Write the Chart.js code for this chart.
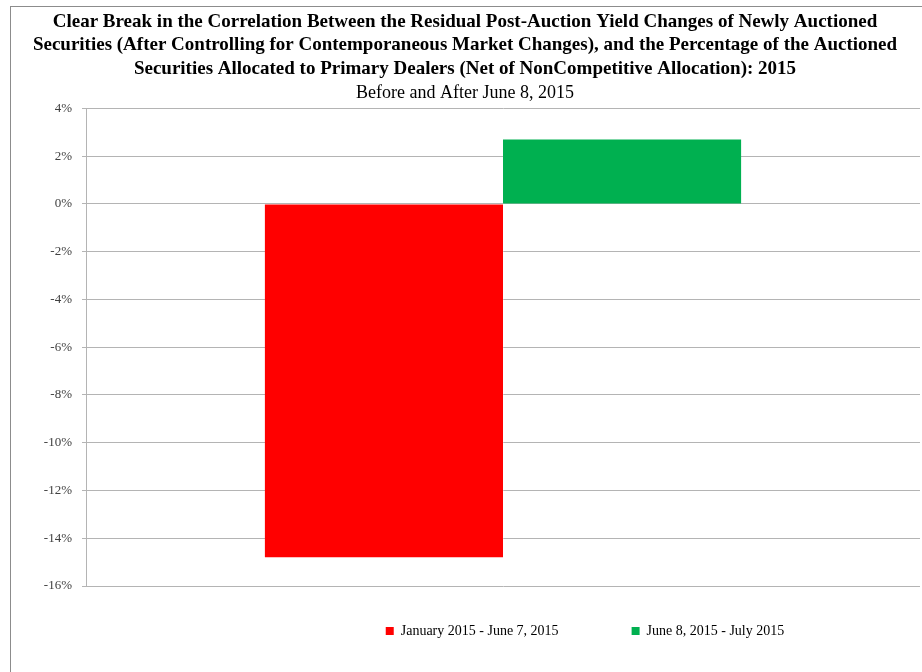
<!DOCTYPE html>
<html>
<head>
<meta charset="utf-8">
<script src="https://cdn.jsdelivr.net/npm/chart.js@4/dist/chart.umd.min.js"></script>
<style>
  html, body { margin: 0; padding: 0; background: #fff; }
  #wrap { width: 922px; height: 672px; }
</style>
</head>
<body>
<div id="wrap"><canvas id="barChart" width="922" height="672"></canvas></div>
<script>
const categories = [''];
const seriesNames = ['January 2015 - June 7, 2015', 'June 8, 2015 - July 2015'];
const beforeValues = [-14.8];
const afterValues = [2.7];
const yTicks = [4, 2, 0, -2, -4, -6, -8, -10, -12, -14, -16];

const titleLines = [
    'Clear Break in the Correlation Between the Residual Post-Auction Yield Changes of Newly Auctioned',
    'Securities (After Controlling for Contemporaneous Market Changes), and the Percentage of the Auctioned',
    'Securities Allocated to Primary Dealers (Net of NonCompetitive Allocation): 2015'
];
const subtitleText = 'Before and After June 8, 2015';

const serif = "'Liberation Serif', 'DejaVu Serif', serif";

// outer frame like the spreadsheet chart border
const framePlugin = {
    id: 'frame',
    beforeDraw(chart) {
        const c = chart.ctx;
        c.save();
        c.fillStyle = '#fff';
        c.fillRect(0, 0, chart.width, chart.height);
        c.strokeStyle = '#8c8c8c';
        c.lineWidth = 1;
        c.strokeRect(10.5, 6.5, 940, 700);
        c.restore();
    }
};

// the original legend sits right of centre
const legendShift = {
    id: 'legendShift',
    afterLayout(chart) {
        if (chart.legend) {
            chart.legend.left += 120;
            chart.legend.right += 120;
        }
    }
};

const ctx = document.getElementById('barChart').getContext('2d');

const chart = new Chart(ctx, {
    type: 'bar',
    data: {
        labels: categories,
        datasets: [
            {
                label: seriesNames[0],
                data: beforeValues,
                backgroundColor: '#ff0000',
                borderWidth: 0
            },
            {
                label: seriesNames[1],
                data: afterValues,
                backgroundColor: '#00b050',
                borderWidth: 0
            }
        ]
    },
    options: {
        responsive: false,
        animation: false,
        datasets: {
            bar: {
                barPercentage: 1,
                categoryPercentage: 0.571
            }
        },
        layout: {
            padding: { left: 10, right: 2, top: 0, bottom: 24 }
        },
        scales: {
            x: {
                display: false
            },
            y: {
                min: -16,
                max: 4,
                afterBuildTicks(scale) {
                    scale.ticks = yTicks.map(v => ({ value: v }));
                },
                afterFit(scale) {
                    scale.width = 76;
                },
                ticks: {
                    padding: 10,
                    color: '#404040',
                    font: { family: serif, size: 13 },
                    callback: v => v + '%'
                },
                grid: {
                    color: '#b4b4b4',
                    tickLength: 4,
                    lineWidth: 1
                },
                border: { color: '#b4b4b4' }
            }
        },
        plugins: {
            title: {
                display: true,
                text: titleLines,
                color: '#000',
                font: { family: serif, size: 19, weight: 'bold', lineHeight: 1.24 },
                padding: { top: 10, bottom: 2 }
            },
            subtitle: {
                display: true,
                text: subtitleText,
                color: '#000',
                font: { family: serif, size: 18, lineHeight: 1.1 },
                padding: { top: 1, bottom: 5 }
            },
            legend: {
                display: true,
                position: 'bottom',
                labels: {
                    color: '#000',
                    font: { family: serif, size: 14 },
                    boxWidth: 8,
                    boxHeight: 8,
                    padding: 38,
                    // widen the gap after the first entry (blank space only)
                    generateLabels(chart) {
                        const items = Chart.defaults.plugins.legend.labels.generateLabels(chart);
                        items[0].text = items[0].text + '          ';
                        return items;
                    }
                }
            },
            tooltip: { enabled: false }
        }
    },
    plugins: [framePlugin, legendShift]
});
</script>
</body>
</html>
